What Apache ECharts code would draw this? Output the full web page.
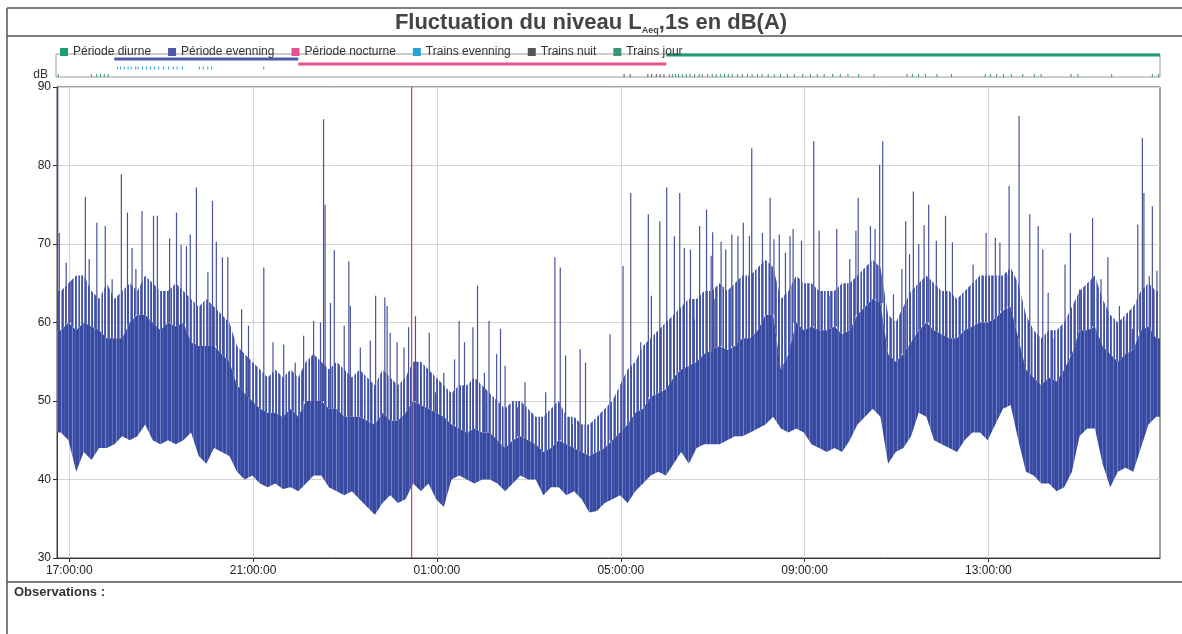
<!DOCTYPE html>
<html><head><meta charset="utf-8">
<script src="https://cdn.jsdelivr.net/npm/echarts@6/dist/echarts.min.js"></script>
<style>html,body{margin:0;padding:0;background:#fff}#c{width:1182px;height:634px}</style>
</head><body><div id="c"></div>
<script>
// ---------- DATA ----------
const DAY1 = '2024-05-14', DAY2 = '2024-05-15';
const axisStart = '16:44', axisEnd = '16:44';
const binMinutes = 10;
// 10-minute bins from 16:44: bottom and top of the dense LAeq,1s band (dB)
const bandLow = [46,45,41,43.5,42.5,44,44,44.5,45.5,45,
  45.5,47,45,44.5,45,44.5,45,46,43,42,
  44,43.5,43,41,40,40.5,39.5,39,39.5,38.8,
  39,38.5,39.5,40.5,40.5,39,38.5,38,38.5,37.5,
  36.5,35.5,37,38,37,37.5,39.5,38.5,39.5,37.5,
  36.5,40,40.5,40,39.5,40,40,39.5,38.5,39.5,
  40.5,40,40,38,39,39,38,38.5,37.5,35.8,
  36,37,37.5,38,37,38.5,39.5,40.5,41,40.5,
  42,43.5,42,44,44.5,44.5,44.5,45,45.5,45.5,
  46,46.5,47,48,46.5,46,46.5,46,44.5,44,
  43.5,44,43.5,45,47,48,49,48,42,43.5,
  44,45.5,48.5,48,45,44.5,44,43.5,45,46,
  46,45,47,49,49.5,45,41,40.5,39.5,39.5,
  38.5,39,41,45.5,46.5,46.5,42,39,41,41.5,
  41,44,47,48];
const bandTop = [59,60,59,60,59.5,59,58,58,58,60,
  61,61,60,59,60,59.5,60,57.5,57,57,
  57,56,55,52,51,50,49,48.5,48.5,48,
  49,48,50,50,50,49,49,48,48,48,
  47.5,47,48.5,47.5,47.5,48.5,50,49.5,49,48.5,
  48,47,46.5,46,46.5,46,46,45,44,45,
  45.5,45,44.5,43.5,44,45,44.5,44,43.5,43,
  43.5,44,45,46,47,48.5,49,50.5,51,51.5,
  53,54,54.5,55,56,56.5,57,56.5,57,58,
  58,59,61,61,54,56,60,59,59.5,59,
  59,59.5,58.5,59,61,62,63,62.5,56,55,
  56,57.5,59,60,59,58.5,58,58,59,59.5,
  60,60,60.5,61.5,62,58,54,53,52,53,
  52.5,54,56,59,59,59.5,57,56,55,56,
  56.5,59,59.5,58];
// upper reach of the frequent lighter excursions above the dense band (dB)
const bandFringe = [64,65,66,66,64,63,65,63,64,65,
  64,66,65,64,64,65,64,63,62,63,
  62,61,60,57,56,55,54,53,54,53,
  54,53,55,56,55,54,55,54,53,54,
  53,52,54,53,52,53,55,55,54,53,
  52,51,52,52,53,52,51,50,49,50,
  50,49,48,48,49,50,48,48,47,47,
  48,49,50,52,54,55,57,58,59,60,
  61,62,63,63,64,64,65,64,65,66,
  66,67,68,67,63,64,66,65,65,64,
  64,64,65,65,66,67,68,67,61,60,
  62,64,65,66,65,64,64,63,64,65,
  66,66,66,66,67,65,61,59,58,59,
  59,60,62,64,65,66,63,61,60,61,
  62,64,65,64];
// isolated peaks [time, dB]
const spikes = [['16:45',90],['16:47',71.4],['16:56',67.6],['17:02',65.3],['17:21',76.0],['17:26',68.1],['17:36',72.7],['17:47',72.3],['17:56',65.5],['18:08',78.9],['18:16',74.0],['18:22',69.5],['18:27',66.8],['18:35',74.2],['18:50',73.6],['18:55',73.6],['19:11',70.7],['19:20',74.0],['19:26',69.9],['19:33',69.7],['19:38',71.2],['19:46',77.2],['20:01',66.4],['20:07',75.5],['20:12',70.3],['20:20',68.3],['20:27',68.3],['20:45',61.7],['20:54',59.6],['21:14',67.0],['21:26',57.5],['21:40',57.2],['21:55',54.9],['22:06',58.3],['22:19',60.2],['22:28',60.0],['22:32',85.9],['22:34',75.0],['22:41',62.5],['22:46',69.2],['22:59',59.6],['23:05',67.8],['23:07',62.1],['23:20',56.8],['23:33',57.7],['23:40',63.4],['23:52',63.2],['23:55',62.1],['23:59',58.7],['00:08',57.5],['00:17',56.8],['00:23',59.4],['00:32',60.8],['00:39',53.6],['00:50',58.7],
  ['00:58',51.1],['01:09',53.6],['01:23',55.3],['01:29',60.2],['01:36',57.5],['01:47',59.4],['01:53',64.7],['02:02',53.6],['02:08',60.2],['02:18',56.0],['02:23',59.2],['02:29',54.5],['02:45',49.2],['02:55',52.4],['03:22',51.1],['03:34',68.3],['03:41',67.0],['03:48',55.8],['03:57',47.1],['04:07',56.6],['04:14',54.9],['04:35',45.6],['04:46',58.5],['05:03',67.2],['05:13',76.5],['05:26',57.5],['05:36',73.8],['05:40',63.4],['05:51',72.9],['06:00',77.2],['06:10',71.0],['06:17',76.5],['06:23',69.5],['06:31',69.3],['06:36',60.4],['06:43',72.3],['06:52',74.4],['06:58',68.5],['07:00',71.5],['07:02',63.0],['07:11',70.3],['07:17',69.3],['07:25',71.2],['07:33',71.0],['07:40',72.7],['07:48',71.0],['07:51',82.2],['08:05',71.4],['08:15',75.9],['08:20',70.6],['08:27',71.2],['08:35',68.9],['08:41',71.0],['08:45',71.9],['08:56',70.4],
  ['09:12',83.1],['09:19',71.7],['09:32',63.4],['09:42',71.9],['09:59',68.1],['10:07',71.7],['10:10',75.9],['10:26',72.3],['10:32',71.9],['10:38',80.1],['10:42',83.1],['10:56',63.6],['11:07',66.8],['11:12',72.9],['11:17',68.7],['11:22',76.7],['11:29',70.0],['11:36',72.4],['11:42',75.0],['11:52',70.4],['12:04',73.6],['12:13',70.2],['12:40',67.4],['12:57',71.4],['13:09',70.8],['13:15',70.2],['13:24',66.1],['13:27',77.4],['13:40',86.3],['13:54',73.8],['14:05',72.3],['14:11',69.3],['14:18',63.8],['14:24',57.9],['14:40',67.4],['14:47',71.4],['14:59',64.2],['15:05',63.4],['15:16',73.3],['15:27',65.5],['15:36',68.3],['15:51',62.1],['16:00',60.2],['16:08',59.2],['16:15',72.5],['16:21',83.5],['16:23',76.5],['16:30',65.9],['16:34',74.8],['16:40',66.6]];
const tickLabels = ['17:00','21:00','01:00','05:00','09:00','13:00'];
const yTicks = [30, 90, 10]; // min, max, step
const cursorTime = '00:27';
const periodNames = ['Période diurne','Période evenning','Période nocturne'];
const periodStart = ['06:00','18:00','22:00'];
const periodEnd   = ['16:44','22:00','06:00'];
const trainNames = ['Trains evenning','Trains nuit','Trains jour'];
const trainsEvenning = ['18:04','18:08','18:13','18:18','18:22','18:28','18:31','18:37','18:42','18:47','18:52','18:58','19:04','19:11','19:17','19:22','19:29','19:51','19:56','20:02','20:07','21:15'];
const trainsNuit = ['05:05','05:13','05:36','05:41','05:47','05:52','05:57'];
const trainsJour = ['16:47','17:30','17:37','17:42','17:47','17:52','06:04','06:08','06:12','06:16','06:21','06:26','06:31','06:37','06:43','06:47','06:54','07:00','07:05','07:11','07:16','07:21','07:26','07:33','07:39','07:46','07:52','07:59','08:05','08:13','08:21','08:29','08:38','08:47','08:58','09:08','09:17','09:26','09:37','09:47','09:57','10:11','10:31','11:14','11:21','11:29','11:38','11:53','12:12','12:56','13:03','13:11','13:20','13:30','13:45','14:00','14:09','14:48','14:57','15:41','16:34','16:42'];

// ---------- HELPERS ----------
function ts(hm, isEnd) {
  const p = hm.split(':').map(Number);
  const mins = p[0]*60 + p[1];
  const day = (mins >= 16*60+44 && !isEnd) ? DAY1 : DAY2;
  return new Date(day + 'T' + hm + ':00').getTime();
}
const T0 = ts(axisStart), T1 = ts(axisEnd, true);
const BIN = binMinutes*60000;
const pad = n => (n<10?'0':'') + n;
const n = bandTop.length;
// outline points: axis start, bin centres, axis end -> [t, low, top, fringe]
const px = [T0].concat(bandTop.map((v,i)=>T0 + i*BIN + BIN/2), [T1]);
const pick = (arr, k) => arr[Math.max(0, Math.min(n-1, k-1))];
const bandPts = px.map((t,k)=>[t, pick(bandLow,k), pick(bandTop,k), pick(bandFringe,k)]);
const spikeData = spikes.map(s => { const t = ts(s[0]); const i = Math.min(n-1, Math.floor((t-T0)/BIN)); return [t, s[1], bandTop[i]]; });

// striated fills (style only)
function stripes(cols) {
  const c = document.createElement('canvas'); c.width = cols.length; c.height = 8;
  const g = c.getContext('2d');
  cols.forEach((col,i)=>{ if (col) { g.fillStyle = col; g.fillRect(i,0,1,8); } });
  return {image:c, repeat:'repeat'};
}
const D='#3f51a6', M='#5a69ba', L='#8f99d4', W=null;
const fringeFill = stripes([D,W,M,D,L,W,D,M,W,L,D,W,M,D,W,L,D,M,W,D,L,W,M]);
const bandFill = stripes(['#3a4ca2','#3a4ca2','#5c6bbb','#3a4ca2','#33469c','#3a4ca2','#7280c6','#3a4ca2','#3a4ca2','#4a5bae','#33469c']);

const FONT = 'Liberation Sans, Arial, sans-serif';
const C = { diurne:'#1f9d6c', evening:'#4e58a6', nocturne:'#e2538f', trEve:'#27a2d8', trNuit:'#555555', trJour:'#3c9474' };
const LEVEL = { diurne:9.6, evening:7.8, nocturne:5.7, trEve:3.9, trains:0 };

function areaSeries(name, loIdx, hiIdx, fill) {
  return { name, type:'custom', data:bandPts, silent:true, encode:{x:0, y:[loIdx, hiIdx]},
    renderItem(params, api){
      if (params.dataIndex !== 0) return null;
      const up = bandPts.map(p=>api.coord([p[0], p[hiIdx]]));
      const dn = bandPts.map(p=>api.coord([p[0], p[loIdx]])).reverse();
      return {type:'polygon', shape:{points: up.concat(dn)}, style:{fill}};
    } };
}
function periodSeries(idx, color, level) {
  return { name: periodNames[idx], type:'custom', xAxisIndex:1, yAxisIndex:1, itemStyle:{color},
    data: [[ts(periodStart[idx]), ts(periodEnd[idx], periodEnd[idx]===axisEnd)]],
    encode:{x:[0,1]},
    renderItem(params, api){
      const a = api.coord([api.value(0), level]), b = api.coord([api.value(1), level]);
      return {type:'rect', shape:{x:a[0], y:a[1]-1.5, width:b[0]-a[0], height:3}, style:{fill:color}};
    } };
}
function trainSeries(name, list, color, level, h) {
  return { name, type:'custom', xAxisIndex:1, yAxisIndex:1, itemStyle:{color},
    data: list.map(t=>[ts(t)]), encode:{x:0},
    renderItem(params, api){
      const a = api.coord([api.value(0), level]);
      return {type:'line', shape:{x1:a[0], y1:a[1]-h[0], x2:a[0], y2:a[1]-h[1]}, style:{stroke:color, lineWidth:1}};
    } };
}
const tickVals = tickLabels.map(t=>ts(t));

const chart = echarts.init(document.getElementById('c'), null, {renderer:'canvas'});
chart.setOption({
  animation:false,
  backgroundColor:'#fff',
  textStyle:{fontFamily:FONT},
  title:{ left:'center', top:6,
    text:'{a|Fluctuation du niveau L}{s|Aeq}{a|,1s en dB(A)}',
    textStyle:{ rich:{
      a:{fontFamily:FONT, fontSize:22, fontWeight:'bold', color:'#444', lineHeight:24, verticalAlign:'middle'},
      s:{fontFamily:FONT, fontSize:9, fontWeight:'bold', color:'#444', lineHeight:24, verticalAlign:'bottom', padding:[13,0,0,0]} } } },
  legend:{ left:55, top:41, itemWidth:8, itemHeight:8, itemGap:17, icon:'rect',
    textStyle:{fontFamily:FONT, fontSize:12, color:'#333'},
    data: periodNames.concat(trainNames) },
  grid:[
    {left:57, right:22, top:87, bottom:76, show:true, borderColor:'#444', borderWidth:1},
    {left:56, right:22, top:54, height:23, show:true, borderColor:'#999', borderWidth:1}
  ],
  xAxis:[
    { type:'value', gridIndex:0, min:T0, max:T1,
      axisLine:{lineStyle:{color:'#333'}},
      axisTick:{customValues: tickVals, length:4, lineStyle:{color:'#333'}},
      axisLabel:{customValues: tickVals, fontFamily:FONT, fontSize:12, color:'#222', margin:7,
        formatter: v => { const d = new Date(v); return pad(d.getHours())+':'+pad(d.getMinutes())+':'+pad(d.getSeconds()); } },
      splitLine:{show:true, lineStyle:{color:'#d4d4d4', width:1}} },
    { type:'value', gridIndex:1, min:T0, max:T1, show:false }
  ],
  yAxis:[
    { type:'value', gridIndex:0, min:yTicks[0], max:yTicks[1], interval:yTicks[2],
      name:'dB', nameGap:6, nameTextStyle:{fontFamily:FONT, fontSize:12, color:'#333', align:'right', verticalAlign:'middle', padding:[0,9,0,0]},
      axisLine:{show:true, lineStyle:{color:'#333'}}, axisTick:{show:true, length:4, lineStyle:{color:'#333'}},
      axisLabel:{fontFamily:FONT, fontSize:12, color:'#222', margin:6},
      splitLine:{show:true, lineStyle:{color:'#d4d4d4'}} },
    { type:'value', gridIndex:1, min:0, max:10, show:false }
  ],
  series:[
    areaSeries('fringe', 2, 3, fringeFill),
    { name:'pics', type:'custom', data:spikeData, encode:{x:0, y:1}, silent:true,
      renderItem(params, api){
        const p = api.coord([api.value(0), api.value(1)]), b = api.coord([api.value(0), api.value(2)]);
        return {type:'line', shape:{x1:p[0], y1:b[1], x2:p[0], y2:p[1]}, style:{stroke:'#4a5298', lineWidth:1.2}};
      } },
    areaSeries('LAeq,1s', 1, 2, bandFill),
    { name:'curseur', type:'custom', data:[[ts(cursorTime)]], encode:{x:0}, silent:true, z:5,
      renderItem(params, api){
        const a = api.coord([api.value(0), yTicks[0]]), b = api.coord([api.value(0), yTicks[1]]);
        return {type:'line', shape:{x1:a[0], y1:a[1], x2:b[0], y2:b[1]}, style:{stroke:'#e5393b', lineWidth:1.2}};
      } },
    periodSeries(0, C.diurne, LEVEL.diurne),
    periodSeries(1, C.evening, LEVEL.evening),
    periodSeries(2, C.nocturne, LEVEL.nocturne),
    trainSeries(trainNames[0], trainsEvenning, C.trEve, LEVEL.trEve, [-1.5, 1.5]),
    trainSeries(trainNames[1], trainsNuit, C.trNuit, LEVEL.trains, [0, 3]),
    trainSeries(trainNames[2], trainsJour, C.trJour, LEVEL.trains, [0, 3])
  ],
  graphic:[
    {type:'line', shape:{x1:7, y1:8, x2:1182, y2:8}, style:{stroke:'#555', lineWidth:1.5}},
    {type:'line', shape:{x1:7, y1:8, x2:7, y2:634}, style:{stroke:'#555', lineWidth:1.5}},
    {type:'line', shape:{x1:7, y1:36, x2:1182, y2:36}, style:{stroke:'#555', lineWidth:1.5}},
    {type:'line', shape:{x1:7, y1:582, x2:1182, y2:582}, style:{stroke:'#555', lineWidth:1.5}},
    {type:'text', left:14, top:586, style:{text:'Observations :', fontFamily:FONT, fontSize:13, fontWeight:'bold', fill:'#333'}}
  ]
});
</script></body></html>
